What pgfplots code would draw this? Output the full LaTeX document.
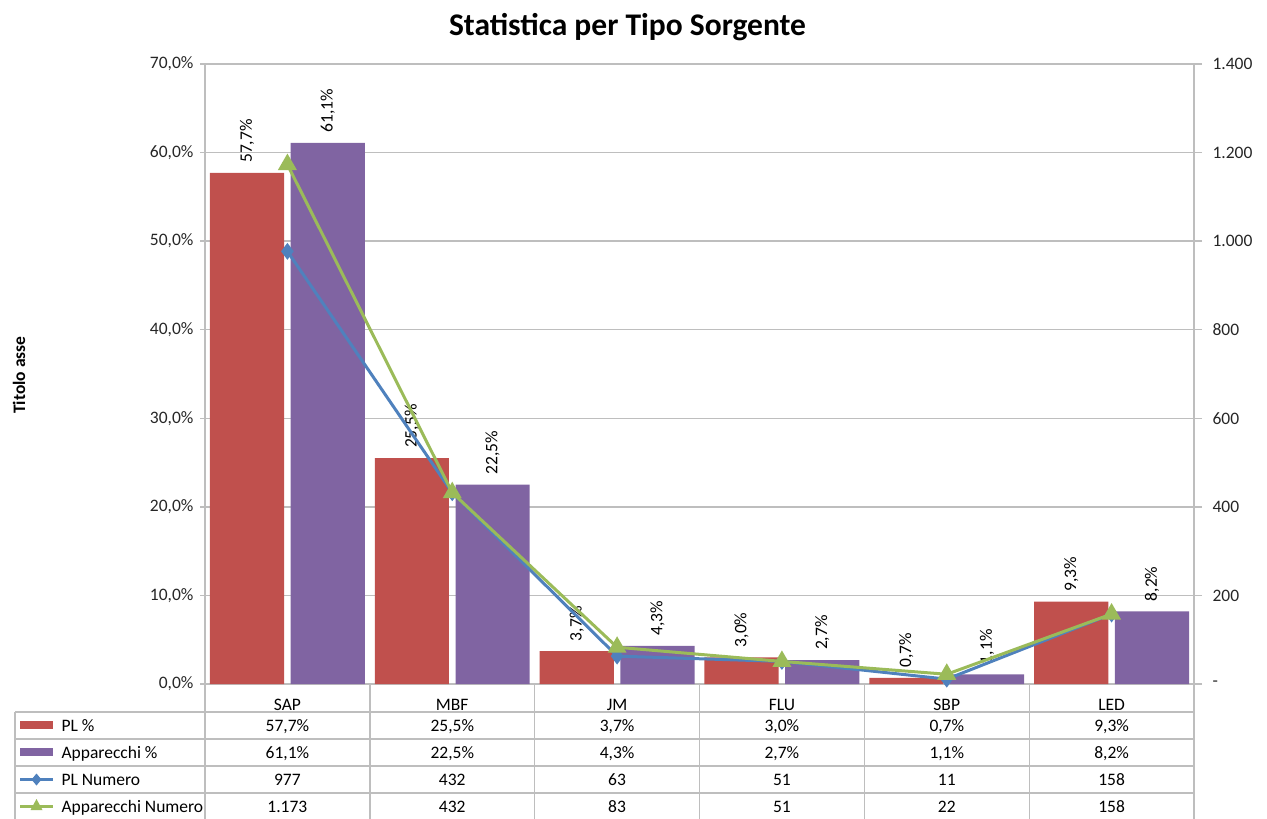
\documentclass[border=0pt]{standalone}
\usepackage{pgfplots}
\pgfplotsset{compat=1.18}
\usepackage{fontspec}
\setmainfont{Carlito}
\definecolor{cred}{HTML}{C0504D}
\definecolor{cpurple}{HTML}{8064A2}
\definecolor{cblue}{HTML}{4F81BD}
\definecolor{cgreen}{HTML}{9BBB59}
\definecolor{cgrid}{HTML}{BEBEBE}
\definecolor{ctick}{HTML}{262626}
\newcommand\fs{\fontsize{17.5}{21}\selectfont}
\newcommand\trow[7]{%
  \node[anchor=base] at (287.4,#1) {#2};
  \node[anchor=base] at (452.3,#1) {#3};
  \node[anchor=base] at (617.1,#1) {#4};
  \node[anchor=base] at (781.9,#1) {#5};
  \node[anchor=base] at (946.8,#1) {#6};
  \node[anchor=base] at (1111.6,#1) {#7};}
\begin{document}
\begin{tikzpicture}
\path[use as bounding box] (0pt,0pt) rectangle (1267pt,-819pt);
\node[anchor=base, font=\fontsize{31.5}{36}\selectfont\bfseries] at (627.5pt,-35pt) {Statistica per Tipo Sorgente};
\node[anchor=base, rotate=90, font=\fs\bfseries] at (25pt,-375pt) {Titolo asse};

\begin{axis}[
  at={(205pt,-684pt)}, anchor=south west,
  scale only axis, width=989pt, height=620pt,
  xmin=-0.5, xmax=5.5, ymin=0, ymax=70,
  /pgf/number format/assume math mode=true,
  axis line style={cgrid, line width=1.4pt},
  ymajorgrids, grid style={cgrid, line width=1.4pt},
  ytick={0,10,...,70}, ytick pos=left, tick align=outside,
  major tick length=5pt,
  ytick style={cgrid, line width=1.4pt},
  yticklabel={\pgfmathprintnumber[fixed,fixed zerofill,precision=1,use comma]{\tick}\%},
  xtick={0,...,5}, xticklabels={SAP,MBF,JM,FLU,SBP,LED},
  xtick style={draw=none},
  tick label style={font=\fs, text=ctick},
  yticklabel style={xshift=-3pt},
  xticklabel style={text=black, anchor=base, yshift=-21pt},
  ybar, bar width=0.45,
  nodes near coords={\pgfmathprintnumber[fixed,fixed zerofill,precision=1,use comma]{\pgfplotspointmeta}\%},
  every node near coord/.append style={rotate=90, anchor=west, font=\fs, text=black, inner xsep=10pt},
]
\addplot[draw=none, fill=cred, bar shift=-0.245] coordinates {(0,57.7)(1,25.5)(2,3.7)(3,3.0)(4,0.7)(5,9.3)};
\addplot[draw=none, fill=cpurple, bar shift=0.245] coordinates {(0,61.1)(1,22.5)(2,4.3)(3,2.7)(4,1.1)(5,8.2)};
\end{axis}

\begin{axis}[
  at={(205pt,-684pt)}, anchor=south west,
  scale only axis, width=989pt, height=620pt,
  xmin=-0.5, xmax=5.5, ymin=0, ymax=1400,
  axis x line=none, axis y line*=right,
  axis line style={cgrid, line width=1.4pt, -},
  ytick={0,200,...,1400}, yticklabels={-,200,400,600,800,1.000,1.200,1.400},
  tick align=outside, major tick length=8pt,
  ytick style={cgrid, line width=1.4pt},
  yticklabel style={font=\fs, text=ctick, anchor=west, xshift=7pt},
]
\addplot[cblue, line width=3pt, mark=diamond*, mark size=6pt] coordinates {(0,977)(1,432)(2,63)(3,51)(4,11)(5,158)};
\addplot[cgreen, line width=3pt, mark=triangle*, mark size=8pt] coordinates {(0,1173)(1,432)(2,83)(3,51)(4,22)(5,158)};
\end{axis}

\begin{scope}[x=1pt,y=-1pt]
\foreach \yy in {712,739,766,793} \draw[cgrid,line width=1.4pt] (15,\yy) -- (1194,\yy);
\draw[cgrid,line width=1.4pt] (15,712) -- (15,819);
\foreach \xx in {205,369.8,534.7,699.5,864.3,1029.2,1194} \draw[cgrid,line width=1.4pt] (\xx,684) -- (\xx,819);
\fill[cred] (20,721) rectangle (53,729);
\fill[cpurple] (20,748) rectangle (53,756);
\draw[cblue, line width=3pt] (20,779.5) -- (53,779.5);
\fill[cblue] (36.5,773.5) -- (41.5,779.5) -- (36.5,785.5) -- (31.5,779.5) -- cycle;
\draw[cgreen, line width=3pt] (20,806) -- (53,806);
\fill[cgreen] (36.5,799) -- (42.5,810) -- (30.5,810) -- cycle;
\begin{scope}[font=\fs]
\node[anchor=base west] at (58,731) {PL \%};
\node[anchor=base west] at (58,758) {Apparecchi \%};
\node[anchor=base west] at (58,785) {PL Numero};
\node[anchor=base west] at (58,812) {Apparecchi Numero};
\trow{731}{57,7\%}{25,5\%}{3,7\%}{3,0\%}{0,7\%}{9,3\%}
\trow{758}{61,1\%}{22,5\%}{4,3\%}{2,7\%}{1,1\%}{8,2\%}
\trow{785}{977}{432}{63}{51}{11}{158}
\trow{812}{1.173}{432}{83}{51}{22}{158}
\end{scope}
\end{scope}
\end{tikzpicture}
\end{document}
